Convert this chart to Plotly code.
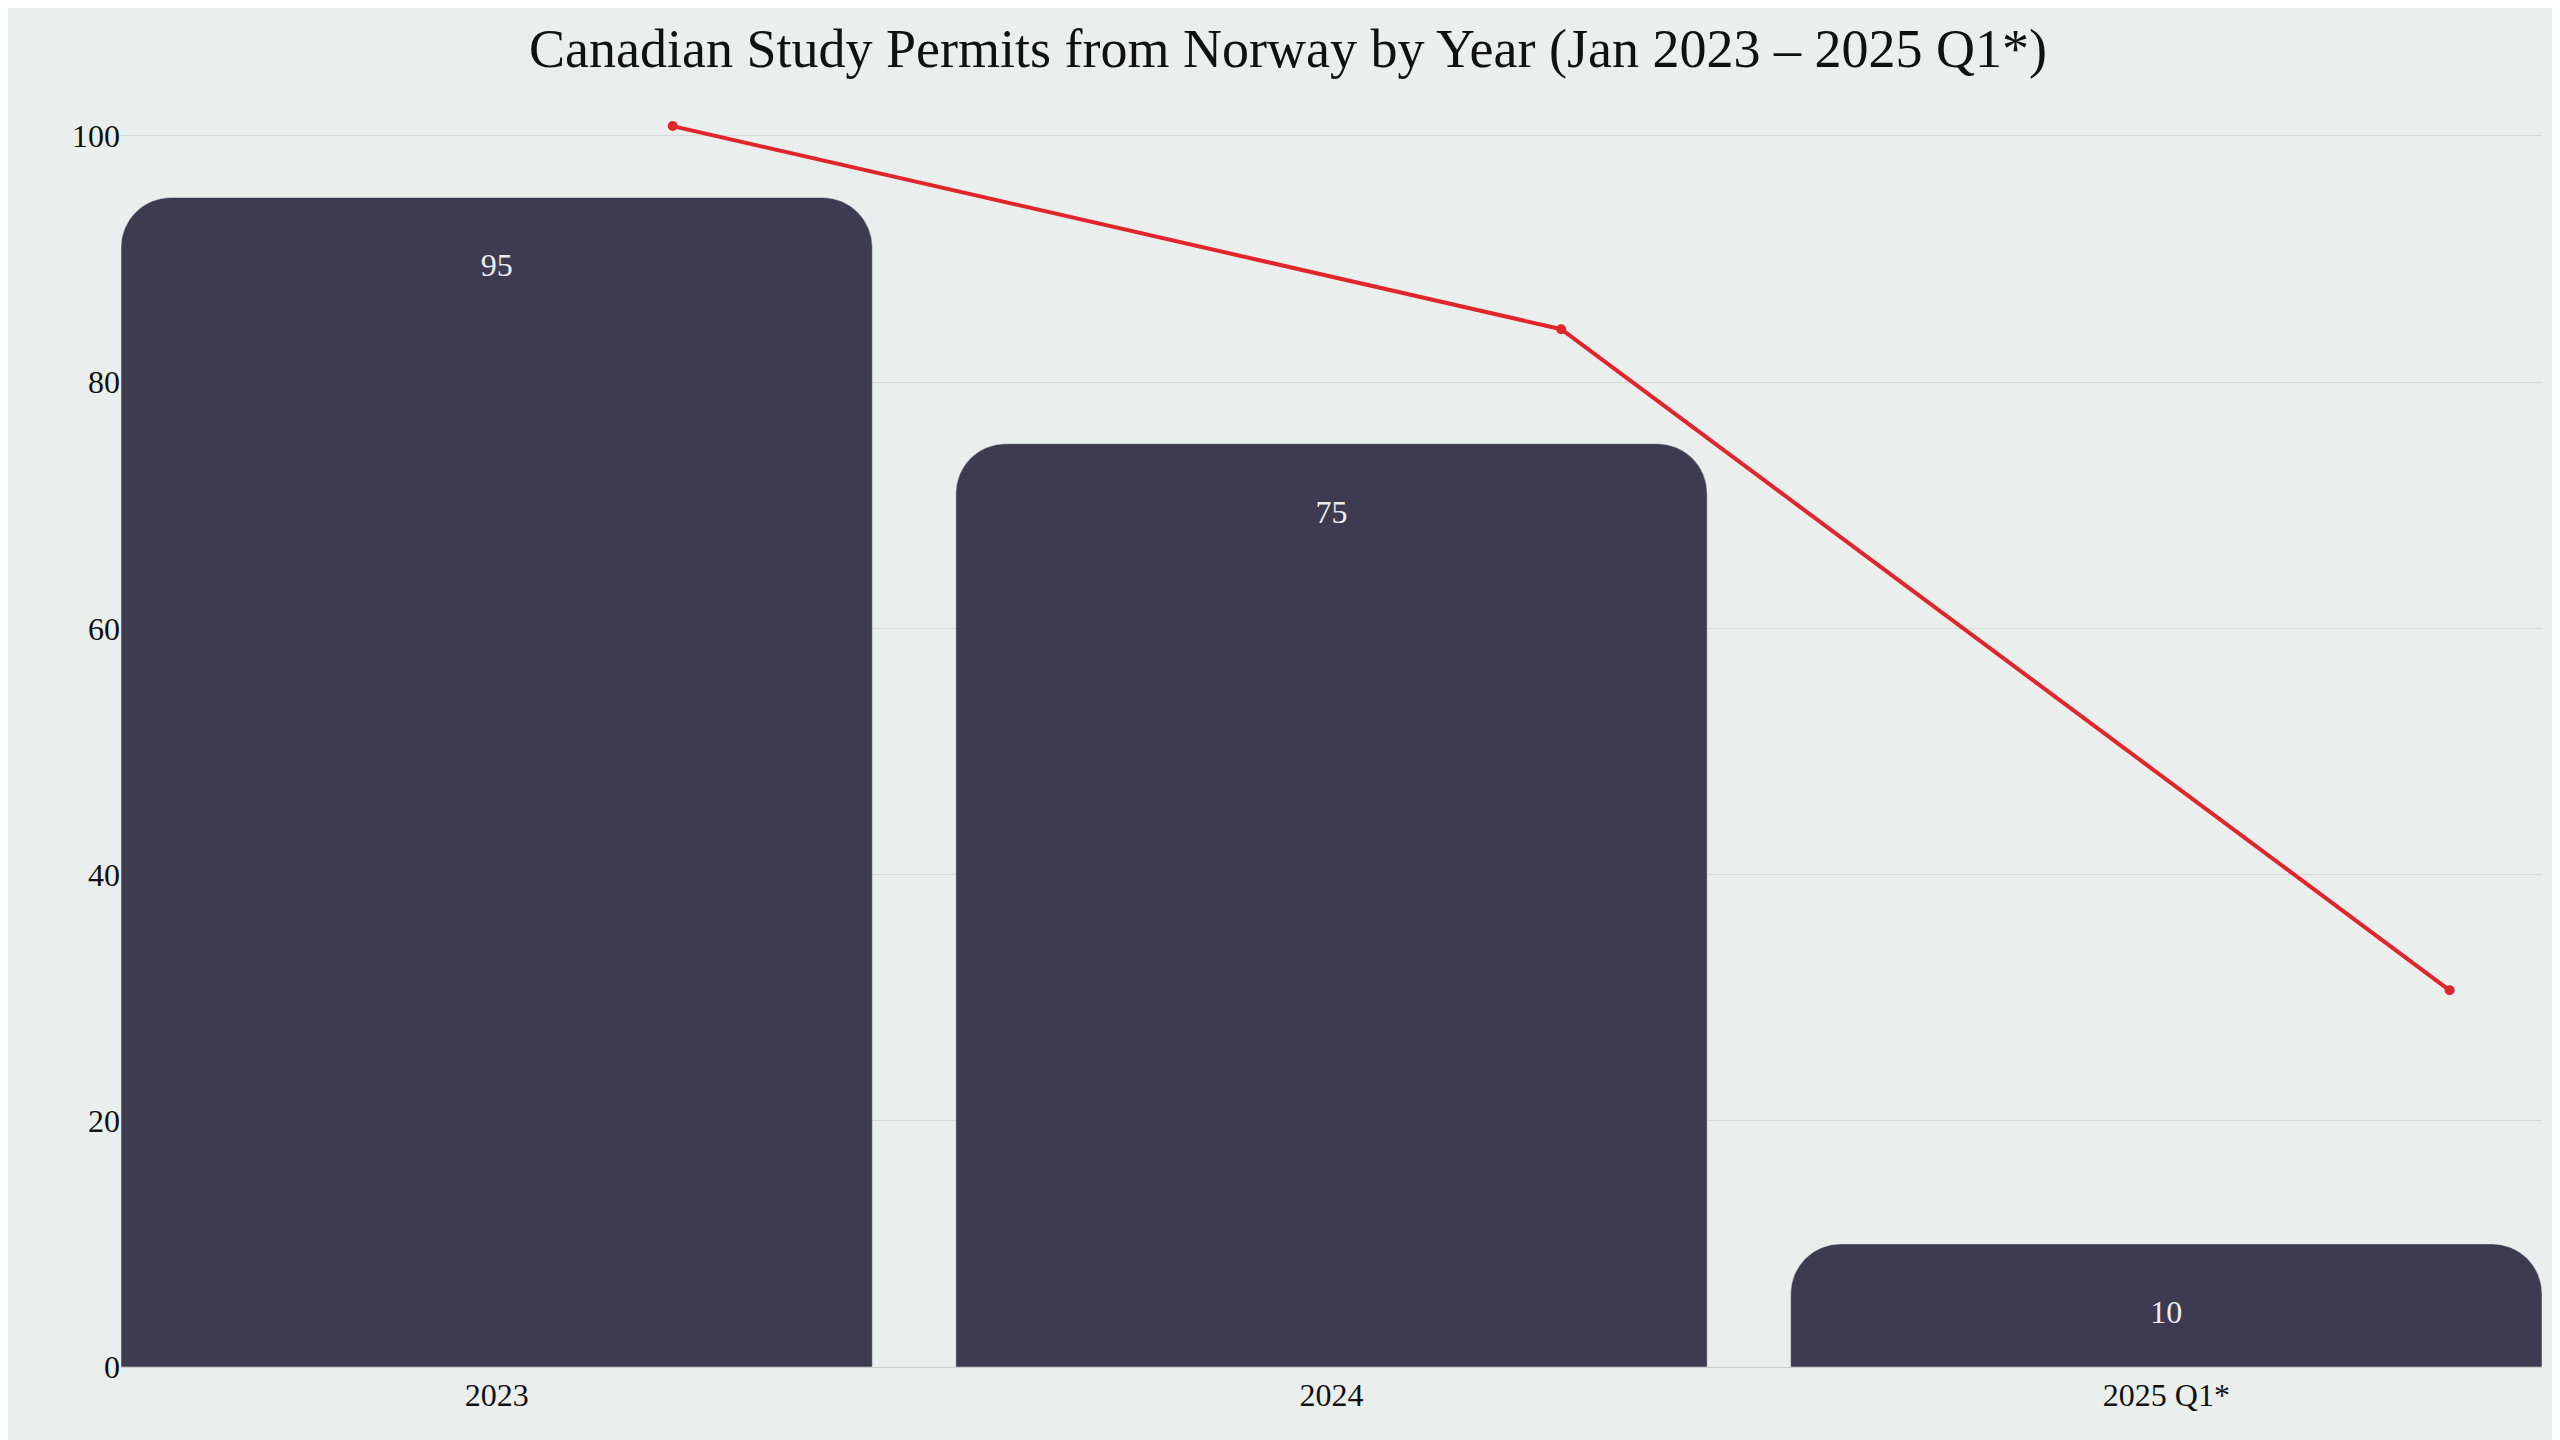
import plotly.graph_objects as go

years = ["2023", "2024", "2025 Q1*"]
permits = [95, 75, 10]
trend_x = [0, 1, 2]
trend_y = [100.8, 84.3, 30.6]

fig = go.Figure()
fig.add_trace(go.Bar(x=[0, 1, 2], y=permits, marker_color="#3E3A50", text=permits,
                     textposition="inside", insidetextanchor="end",
                     textfont=dict(color="#EDEDF0", size=32), width=0.9, showlegend=False))
fig.add_trace(go.Scatter(x=trend_x, y=trend_y, xaxis="x2", mode="lines+markers",
                         line=dict(color="#E0252B", width=4), marker=dict(size=10, color="#E0252B"),
                         showlegend=False))
fig.update_layout(
    width=2560, height=1440, barcornerradius=50,
    paper_bgcolor="#EAEEEC", plot_bgcolor="#EAEEEC",
    font=dict(family="Liberation Serif, DejaVu Serif, serif", color="#111", size=32),
    title=dict(text="Canadian Study Permits from Norway by Year (Jan 2023 – 2025 Q1*)",
               x=0.5, xanchor="center", y=0.985, yanchor="top", font=dict(size=54)),
    margin=dict(l=113, r=26, t=91, b=81),
    xaxis=dict(range=[-0.45, 2.45], tickvals=[0, 1, 2], ticktext=years, showgrid=False,
               showline=True, linecolor="#CCCCCC", ticks="", zeroline=False),
    xaxis2=dict(overlaying="x", range=[-0.621, 2.104], visible=False),
    yaxis=dict(range=[0, 103], tickvals=[0, 20, 40, 60, 80, 100], gridcolor="#D6D9D8",
               zeroline=False, ticks=""),
)
fig.write_html("out.html")
